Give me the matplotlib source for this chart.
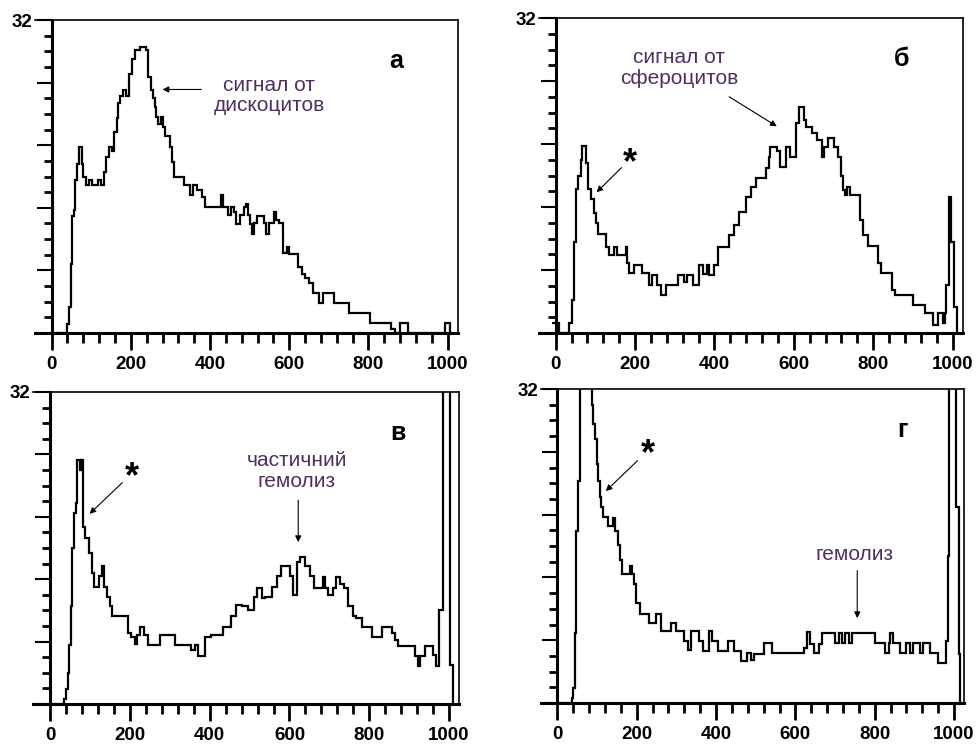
import numpy as np
import matplotlib
matplotlib.use('Agg')
import matplotlib.pyplot as plt

plt.rcParams['font.family'] = ['Liberation Sans', 'DejaVu Sans']

# step histograms: bin edges (channel) and counts
# values above 32 are off-scale in the original and get clipped
a_edges = [0, 40, 44, 48, 52, 56, 60, 64, 68, 76, 80, 86, 95, 103, 116, 124, 131, 137, 144, 152,
           158, 164, 168, 173, 181, 188, 195, 202, 210, 224, 238, 244, 250, 255, 260, 264, 268, 276,
           282, 287, 298, 305, 308, 334, 349, 356, 368, 380, 387, 428, 433, 445, 452, 460, 466, 476,
           485, 490, 496, 502, 506, 512, 519, 536, 541, 548, 562, 566, 575, 583, 594, 600, 621, 632,
           641, 650, 660, 675, 685, 714, 752, 803, 857, 866, 880, 900, 993, 1005, 1010]
a_counts = [0, 0.9, 2.7, 7.1, 12.0, 12.6, 15.6, 17.3, 19.0, 17.3, 16.0, 15.1, 15.6, 15.1, 15.6, 15.1,
            16.5, 18.0, 19.0, 18.6, 20.5, 22.0, 23.5, 24.2, 24.8, 24.2, 26.5, 28.0, 28.9, 29.2, 28.9,
            26.2, 24.8, 24.0, 23.1, 22.1, 21.4, 22.1, 21.1, 20.1, 19.0, 17.5, 16.0, 15.1, 14.1, 15.1,
            14.6, 13.9, 12.9, 14.1, 12.9, 12.1, 12.9, 12.4, 11.1, 12.1, 12.9, 13.2, 12.1, 11.1, 10.1,
            11.2, 12.0, 11.2, 10.1, 11.2, 12.4, 11.6, 11.2, 8.2, 8.8, 8.1, 6.8, 6.0, 5.6, 5.1, 4.1,
            3.1, 4.1, 3.1, 2.0, 1.0, 0.4, 0, 1.0, 0, 1.0, 0]

b_edges = [-8, 8, 34, 42, 46, 50, 56, 63, 67, 77, 81, 89, 97, 102, 106, 126, 134, 147, 155, 176,
           180, 185, 197, 218, 235, 243, 256, 265, 277, 307, 324, 332, 345, 361, 372, 380, 386, 400,
           410, 436, 449, 462, 479, 491, 504, 529, 537, 541, 558, 566, 579, 590, 606, 612, 626, 631,
           645, 658, 670, 676, 687, 700, 712, 718, 725, 729, 735, 741, 766, 775, 787, 812, 820, 848,
           854, 900, 930, 951, 963, 976, 980, 984, 990, 997, 1003, 1010, 1014]
b_counts = [1.0, 0, 1.0, 3.4, 9.2, 14.6, 16.0, 17.6, 19.0, 17.3, 14.6, 13.6, 12.2, 11.2, 10.1, 8.7,
            7.9, 8.7, 7.9, 8.7, 7.1, 6.1, 6.9, 6.1, 4.9, 5.9, 4.9, 3.9, 4.9, 5.9, 5.2, 5.9, 4.9, 6.9,
            6.0, 6.9, 5.9, 6.9, 8.7, 10.0, 11.0, 12.3, 13.8, 14.8, 15.7, 16.8, 17.9, 18.9, 18.5, 16.9,
            18.9, 17.9, 21.3, 23.0, 21.6, 20.9, 20.3, 19.6, 17.9, 18.9, 19.8, 18.9, 17.9, 15.9, 14.5,
            14.0, 14.8, 14.0, 11.5, 10.0, 8.8, 7.1, 6.1, 4.4, 3.9, 2.8, 2.0, 0.8, 2.0, 1.0, 2.0, 4.9,
            13.8, 9.2, 2.6, 0]

c_edges = [0, 34, 40, 44, 48, 52, 56, 60, 64, 68, 74, 78, 82, 88, 98, 105, 110, 123, 130, 134, 142,
           150, 154, 196, 204, 213, 217, 225, 236, 246, 275, 313, 354, 363, 371, 388, 404, 433, 454,
           466, 480, 495, 510, 518, 532, 538, 557, 568, 578, 601, 609, 619, 627, 640, 651, 662, 685,
           689, 697, 710, 716, 726, 737, 747, 760, 768, 781, 806, 831, 856, 865, 873, 915, 922, 928,
           939, 961, 967, 976, 985, 1002, 1009, 1012]
c_counts = [0, 0.5, 1.5, 3.2, 6.0, 10.0, 16.0, 19.6, 20.6, 25.0, 24.0, 25.0, 18.2, 17.0, 15.5, 13.4,
            12.0, 13.1, 14.2, 12.0, 11.0, 10.0, 9.0, 7.3, 6.9, 6.1, 7.1, 7.9, 7.1, 6.0, 7.1, 6.0, 5.5,
            6.0, 4.9, 6.9, 7.1, 7.9, 9.0, 10.2, 10.0, 9.6, 11.0, 11.9, 10.9, 11.0, 12.0, 13.1, 14.2,
            13.1, 11.2, 14.6, 15.1, 14.2, 13.1, 11.9, 13.0, 11.9, 11.2, 11.9, 13.0, 12.3, 11.9, 10.0,
            9.0, 8.8, 7.9, 6.9, 7.9, 7.3, 6.6, 5.9, 4.9, 3.9, 4.9, 5.9, 5.0, 3.9, 9.6, 45, 4.0, 0]

d_edges = [0, 36, 40, 44, 48, 52, 56, 86, 90, 95, 99, 103, 107, 111, 115, 128, 140, 145, 152, 158,
           162, 183, 187, 193, 199, 207, 232, 249, 261, 286, 298, 320, 328, 336, 357, 366, 383, 391,
           404, 429, 446, 463, 478, 487, 495, 522, 541, 621, 630, 638, 646, 659, 667, 701, 709, 717,
           726, 734, 742, 801, 826, 835, 838, 846, 863, 880, 888, 897, 913, 922, 939, 960, 981, 984,
           987, 1006, 1012, 1016, 1020]
d_counts = [0, 0.5, 1.5, 7.1, 17.5, 22.6, 45, 30.4, 28.4, 26.9, 24.4, 22.6, 21.0, 20.0, 19.0, 18.0,
            18.9, 17.5, 16.1, 14.6, 13.1, 14.0, 13.1, 12.1, 10.2, 9.1, 8.2, 9.1, 7.3, 8.2, 7.3, 6.3,
            5.4, 7.3, 6.3, 5.3, 7.3, 6.3, 5.3, 6.3, 5.3, 4.3, 5.1, 4.4, 5.0, 6.1, 5.1, 5.6, 7.2, 6.0,
            5.1, 6.0, 7.1, 6.1, 7.1, 6.1, 7.1, 6.1, 7.1, 6.1, 5.1, 6.1, 7.1, 6.1, 5.1, 6.1, 5.1, 6.1,
            5.1, 6.1, 5.1, 4.1, 6.3, 15.0, 45, 20.0, 5.0, 0]

panel_letters = ['а', 'б', 'в', 'г']
label_color = '#4e2f63'

fig = plt.figure(figsize=(9.8, 7.44), dpi=100)

# axes rectangles (fig fractions)
rects = [[0.0357, 0.5524, 0.4316, 0.4207],
         [0.5500, 0.5524, 0.4326, 0.4234],
         [0.0340, 0.0538, 0.4348, 0.4194],
         [0.5518, 0.0551, 0.4322, 0.4220]]
data = [(a_edges, a_counts), (b_edges, b_counts), (c_edges, c_counts), (d_edges, d_counts)]

axes = []
for rect, (edges, counts), letter in zip(rects, data, panel_letters):
    ax = fig.add_axes(rect)
    ax.stairs(counts, edges, color='k', lw=1.6, baseline=None)
    ax.set_xlim(-42, 1026)
    ax.set_ylim(0, 32)

    # left axis sits at channel 0, bottom line runs past it
    ax.spines['left'].set_position(('data', 0))
    ax.spines['left'].set_linewidth(2.2)
    ax.spines['bottom'].set_linewidth(2.2)
    ax.spines['top'].set_linewidth(1.2)
    ax.spines['right'].set_linewidth(1.2)

    ax.set_xticks(np.arange(0, 1001, 200))
    ax.set_xticks(np.arange(0, 1001, 40), minor=True)
    ax.set_yticks(np.arange(0, 32.1, 6.4))
    ax.set_yticks(np.arange(0, 32.1, 1.6), minor=True)
    ax.set_yticklabels(['', '', '', '', '', '32'])

    ax.tick_params(axis='x', which='major', direction='out', length=12, width=2, labelsize=13.5, pad=4.5)
    ax.tick_params(axis='x', which='minor', direction='out', length=7, width=2)
    ax.tick_params(axis='y', which='major', direction='out', length=11, width=1.5, labelsize=13.5, pad=3)
    ax.tick_params(axis='y', which='minor', direction='out', length=6, width=2)
    for lab in ax.get_xticklabels() + ax.get_yticklabels():
        lab.set_fontweight('bold')

    ax.text(0.855, 0.87, letter, transform=ax.transAxes, fontsize=18, fontweight='bold',
            ha='center', va='center')
    axes.append(ax)

arrow = dict(arrowstyle='-|>', lw=0.8, color='k', mutation_scale=9, shrinkA=0, shrinkB=0)

# а: discocytes
ax = axes[0]
ax.text(549, 24.3, 'сигнал от\nдискоцитов', color=label_color, fontsize=15, ha='center', va='center',
        linespacing=1.1)
ax.annotate('', xy=(280, 24.9), xytext=(378, 24.9), arrowprops=arrow)

# б: spherocytes
ax = axes[1]
ax.text(311, 26.9, 'сигнал от\nсфероцитов', color=label_color, fontsize=15, ha='center', va='center',
        linespacing=1.1)
ax.annotate('', xy=(557, 21.0), xytext=(437, 24.0), arrowprops=arrow)
ax.text(187, 17.2, '*', fontsize=26, fontweight='bold', ha='center', va='center')
ax.annotate('', xy=(103, 14.3), xytext=(166, 16.8), arrowprops=arrow)

# в: partial hemolysis
ax = axes[2]
ax.text(618, 23.9, 'частичний\nгемолиз', color=label_color, fontsize=15, ha='center', va='center',
        linespacing=1.1)
ax.annotate('', xy=(622, 16.6), xytext=(622, 20.9), arrowprops=arrow)
ax.text(204, 23.2, '*', fontsize=26, fontweight='bold', ha='center', va='center')
ax.annotate('', xy=(99, 19.5), xytext=(181, 22.7), arrowprops=arrow)

# г: hemolysis
ax = axes[3]
ax.text(750, 15.1, 'гемолиз', color=label_color, fontsize=15, ha='center', va='center')
ax.annotate('', xy=(756, 8.65), xytext=(756, 13.5), arrowprops=arrow)
ax.text(227, 25.3, '*', fontsize=26, fontweight='bold', ha='center', va='center')
ax.annotate('', xy=(122, 21.6), xytext=(202, 24.7), arrowprops=arrow)

plt.savefig('out.png', dpi=100)
